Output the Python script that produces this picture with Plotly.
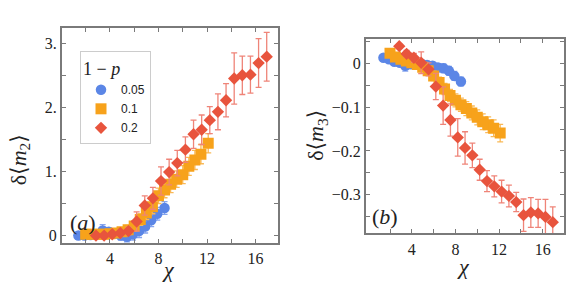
import plotly.graph_objects as go

# ---------------- data ----------------
x_blue = [1.4, 1.9, 2.4, 2.9, 3.4, 3.9, 4.4, 4.9, 5.4, 5.9, 6.4, 6.9, 7.4, 7.9, 8.5]
x_orange = [2.0, 2.5, 3.0, 3.5, 4.0, 4.5, 5.0, 5.5, 6.0, 6.5, 7.0, 7.5, 8.0, 8.5, 9.0,
            9.5, 10.0, 10.5, 11.0, 11.5, 12.1]
x_red = [2.85, 3.52, 4.19, 4.86, 5.53, 6.2, 6.87, 7.54, 8.21, 8.88, 9.55, 10.22,
         10.89, 11.56, 12.23, 12.9, 13.57, 14.24, 14.91, 15.58, 16.25, 16.92]

# panel (a): delta <m2>
m2_blue = [0.0, 0.0, 0.01, 0.02, 0.08, 0.06, 0.03, 0.0, -0.02, 0.02, 0.07, 0.14, 0.24, 0.34, 0.43]
m2_blue_err = [0.02, 0.03, 0.04, 0.05, 0.09, 0.06, 0.06, 0.07, 0.08, 0.09, 0.1, 0.1, 0.1, 0.1, 0.1]
m2_orange = [0.02, 0.02, 0.02, 0.02, 0.03, 0.04, 0.06, 0.09, 0.15, 0.25, 0.35, 0.45, 0.62,
             0.71, 0.80, 0.88, 0.95, 1.08, 1.18, 1.27, 1.44]
m2_orange_err = [0.03, 0.03, 0.03, 0.03, 0.04, 0.05, 0.06, 0.07, 0.08, 0.09, 0.1, 0.11, 0.12,
                 0.12, 0.13, 0.13, 0.14, 0.14, 0.15, 0.15, 0.15]
m2_red = [0.0, 0.0, 0.02, 0.04, 0.07, 0.22, 0.47, 0.58, 0.85, 0.99, 1.13, 1.34, 1.58, 1.65,
          1.80, 1.93, 2.11, 2.45, 2.50, 2.51, 2.69, 2.79]
m2_red_err = [0.03, 0.03, 0.04, 0.05, 0.06, 0.15, 0.15, 0.17, 0.22, 0.2, 0.2, 0.2, 0.22, 0.23,
              0.21, 0.28, 0.26, 0.40, 0.30, 0.29, 0.38, 0.38]

# panel (b): delta <m3>
m3_blue = [0.0135, 0.010, 0.0045, 0.002, -0.005, -0.0015, 0.0, 0.0, -0.003, -0.005, -0.009,
           -0.0105, -0.0165, -0.028, -0.041]
m3_blue_err = [0.004, 0.004, 0.005, 0.006, 0.012, 0.006, 0.006, 0.007, 0.008, 0.008, 0.009,
               0.01, 0.01, 0.01, 0.01]
m3_orange = [0.024, 0.015, 0.010, 0.006, 0.002, -0.002, -0.008, -0.016, -0.028, -0.043,
             -0.058, -0.073, -0.084, -0.094, -0.103, -0.113, -0.123, -0.133, -0.140, -0.148, -0.159]
m3_orange_err = [0.006, 0.006, 0.006, 0.007, 0.007, 0.008, 0.009, 0.01, 0.011, 0.012, 0.013,
                 0.014, 0.015, 0.015, 0.016, 0.016, 0.017, 0.018, 0.018, 0.019, 0.02]
m3_red = [0.040, 0.0225, 0.0135, 0.002, -0.013, -0.0525, -0.096, -0.129, -0.169, -0.193,
          -0.21, -0.243, -0.269, -0.281, -0.293, -0.303, -0.317, -0.347, -0.341, -0.343,
          -0.351, -0.363]
m3_red_err = [0.005, 0.008, 0.01, 0.025, 0.015, 0.03, 0.043, 0.037, 0.043, 0.037, 0.028,
              0.024, 0.024, 0.024, 0.026, 0.025, 0.022, 0.037, 0.034, 0.032, 0.04, 0.035]

labels = ["0.05", "0.1", "0.2"]
x_ticks = [2, 4, 6, 8, 10, 12, 14, 16]
x_ticktext = [" ", "4", " ", "8", " ", "12", " ", "16"]
ya_ticks = [0, 0.5, 1, 1.5, 2, 2.5, 3]
ya_ticktext = ["0", " ", "1.", " ", "2.", " ", "3."]
yb_ticks = [0.05, 0, -0.05, -0.1, -0.15, -0.2, -0.25, -0.3, -0.35]
yb_ticktext = [" ", "0", " ", "\u22120.1", " ", "\u22120.2", " ", "\u22120.3", " "]

# ---------------- style ----------------
SERIF = "Liberation Serif, DejaVu Serif, serif"
colors = ["#5b86e6", "#f7a21b", "#e8543d"]
err_colors = ["#86a5ee", "#f9b957", "#ef8478"]
symbols = ["circle", "square", "diamond"]
sizes = [10.5, 11, 9.5]

fig = go.Figure()

series_a = [(x_blue, m2_blue, m2_blue_err), (x_orange, m2_orange, m2_orange_err),
            (x_red, m2_red, m2_red_err)]
series_b = [(x_blue, m3_blue, m3_blue_err), (x_orange, m3_orange, m3_orange_err),
            (x_red, m3_red, m3_red_err)]

for i, (xs, ys, es) in enumerate(series_a):
    fig.add_trace(go.Scatter(
        x=xs, y=ys, mode="markers", name=labels[i], legendgroup=labels[i],
        marker=dict(symbol=symbols[i], size=sizes[i], color=colors[i], line=dict(width=0)),
        error_y=dict(type="data", array=es, color=err_colors[i], thickness=1.3, width=3),
        xaxis="x", yaxis="y", cliponaxis=True))
for i, (xs, ys, es) in enumerate(series_b):
    fig.add_trace(go.Scatter(
        x=xs, y=ys, mode="markers", name=labels[i], legendgroup=labels[i], showlegend=False,
        marker=dict(symbol=symbols[i], size=sizes[i], color=colors[i], line=dict(width=0)),
        error_y=dict(type="data", array=es, color=err_colors[i], thickness=1.3, width=3),
        xaxis="x2", yaxis="y2", cliponaxis=True))

W, H = 581, 296
frame = "#7a7a7a"
tickfont = dict(family=SERIF, size=16, color="#222")
common = dict(showline=True, linecolor=frame, linewidth=2, mirror="ticks", ticks="inside",
              ticklen=4, tickcolor=frame, tickwidth=1, showgrid=False, zeroline=False,
              tickfont=tickfont, tickmode="array")

fig.update_layout(
    width=W, height=H, margin=dict(l=0, r=0, t=0, b=0),
    paper_bgcolor="white", plot_bgcolor="white",
    font=dict(family=SERIF),
    xaxis=dict(domain=[62 / W, 278 / W], range=[0.05, 17.85], anchor="y",
               tickvals=x_ticks, ticktext=x_ticktext, **common),
    yaxis=dict(domain=[(H - 243) / H, (H - 23) / H], range=[-0.12, 3.23], anchor="x",
               tickvals=ya_ticks, ticktext=ya_ticktext, **common),
    xaxis2=dict(domain=[366 / W, 564 / W], range=[-0.2, 17.95], anchor="y2",
                tickvals=x_ticks, ticktext=x_ticktext, **common),
    yaxis2=dict(domain=[(H - 233) / H, (H - 34) / H], range=[-0.389, 0.056], anchor="x2",
                tickvals=yb_ticks, ticktext=yb_ticktext, **common),
    legend=dict(x=80 / W, y=1 - 46 / H, xanchor="left", yanchor="top",
                bgcolor="white", bordercolor="#cccccc", borderwidth=1,
                font=dict(family="Liberation Sans, Arial, sans-serif", size=12, color="#222"),
                title=dict(text="1 \u2212 <i>p</i>",
                           font=dict(family=SERIF, size=18, color="#222")),
                itemsizing="trace", itemwidth=30, tracegroupgap=0),
    showlegend=True,
)

ann_font = dict(family=SERIF, size=22, color="#222")
annotations = [
    dict(text="<i>\u03c7</i>", x=168 / W, y=1 - 270 / H),
    dict(text="<i>\u03c7</i>", x=463 / W, y=1 - 267 / H),
    dict(text="\u03b4\u27e8<i>m</i><sub>2</sub>\u27e9", x=20 / W, y=1 - 157 / H, textangle=-90),
    dict(text="\u03b4\u27e8<i>m</i><sub>3</sub>\u27e9", x=317 / W, y=1 - 133 / H, textangle=-90),
    dict(text="(<i>a</i>)", x=83 / W, y=1 - 222 / H),
    dict(text="(<i>b</i>)", x=385 / W, y=1 - 216 / H),
]
for a in annotations:
    fig.add_annotation(xref="paper", yref="paper", showarrow=False, font=ann_font,
                       xanchor="center", yanchor="middle", **a)

fig.write_html("out.html", config={"displayModeBar": False},
               post_script="document.body.style.margin='0';document.body.style.padding='0';")
